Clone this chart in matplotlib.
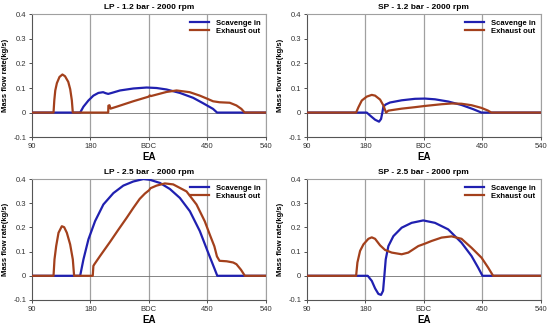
import matplotlib
matplotlib.use("Agg")
import matplotlib.pyplot as plt

plt.rcParams['font.family'] = ['Liberation Sans', 'DejaVu Sans']

titles = ["LP - 1.2 bar - 2000 rpm", "SP - 1.2 bar - 2000 rpm",
          "LP - 2.5 bar - 2000 rpm", "SP - 2.5 bar - 2000 rpm"]
xtick_pos = [90, 180, 270, 360, 450]
xtick_labels = ["90", "180", "BDC", "450", "540"]
ytick_vals = [-0.1, 0, 0.1, 0.2, 0.3, 0.4]
ytick_labels = ["-0.1", "0", "0.1", "0.2", "0.3", "0.4"]

# LP 1.2 bar
lp12_scav_x = [90, 164.3, 169.4, 177, 184.7, 192.4, 199.7, 203.5, 207.5, 212.9, 225.7, 246.2, 266.7,
               282, 297.4, 317.9, 338.4, 353.7, 369, 375.2, 450]
lp12_scav_y = [0, 0, 0.024, 0.049, 0.069, 0.08, 0.083, 0.079, 0.076, 0.08, 0.09, 0.098, 0.102,
               0.1, 0.094, 0.08, 0.06, 0.038, 0.015, 0, 0]
lp12_exh_x = [90, 123.3, 124.5, 126, 128.5, 132.5, 137, 141, 146, 149, 151.5, 153, 207.5, 207.8,
              209.5, 211, 220.6, 246, 270, 271.5, 273, 297.4, 312.8, 333, 348.6, 360.4, 369, 379,
              394.7, 405, 412.6, 417.7, 450]
lp12_exh_y = [0, 0, 0.05, 0.09, 0.12, 0.145, 0.155, 0.148, 0.125, 0.095, 0.05, 0, 0, 0.028,
              0.03, 0.016, 0.024, 0.046, 0.065, 0.07, 0.067, 0.084, 0.09, 0.083, 0.069, 0.056,
              0.046, 0.042, 0.04, 0.029, 0.015, 0, 0]

# SP 1.2 bar
sp12_scav_x = [90, 182.2, 187.3, 195, 201.1, 204.2, 206.2, 207.8, 211.4, 218, 236, 256.4, 271.8,
               287.2, 307.6, 328.1, 346, 358.9, 450]
sp12_scav_y = [0, 0, -0.012, -0.029, -0.037, -0.026, 0, 0.024, 0.033, 0.041, 0.05, 0.056, 0.057,
               0.054, 0.045, 0.031, 0.014, 0, 0]
sp12_exh_x = [90, 165.8, 169.4, 174.5, 182.2, 189.9, 195, 202.7, 207.8, 211.9, 215.5, 236, 256.4,
              271.8, 297.4, 313, 328, 343.5, 358.9, 369, 374, 450]
sp12_exh_y = [0, 0, 0.022, 0.049, 0.065, 0.072, 0.069, 0.053, 0.029, 0, 0.008, 0.016, 0.022,
              0.027, 0.034, 0.037, 0.036, 0.03, 0.019, 0.008, 0, 0]

# LP 2.5 bar
lp25_scav_x = [90, 164.3, 169.4, 177.1, 187.3, 200.1, 215.5, 230.8, 246.2, 261.6, 271.8, 287.2,
               302.5, 317.9, 333.3, 348.6, 361.4, 371.6, 375.5, 450]
lp25_scav_y = [0, 0, 0.068, 0.151, 0.226, 0.295, 0.342, 0.373, 0.39, 0.4, 0.397, 0.384,
               0.359, 0.322, 0.267, 0.185, 0.096, 0.027, 0, 0]
lp25_exh_x = [90, 123.3, 124.8, 127.4, 131, 136.1, 139.7, 143.8, 148.9, 153, 155, 183.7, 184.7,
              186.3, 195, 210.3, 223, 236, 246, 256, 264, 270.5, 272.5, 282, 294.8, 307.6, 328.1,
              343.5, 356.3, 364, 371, 375, 379, 390, 400, 405, 412, 418, 450]
lp25_exh_y = [0, 0, 0.068, 0.123, 0.178, 0.205, 0.201, 0.178, 0.13, 0.068, 0, 0, 0.041,
              0.048, 0.082, 0.14, 0.19, 0.24, 0.28, 0.318, 0.34, 0.354, 0.362, 0.373, 0.382,
              0.378, 0.349, 0.295, 0.225, 0.17, 0.122, 0.08, 0.062, 0.06, 0.055, 0.048, 0.025,
              0, 0]

# SP 2.5 bar
sp25_scav_x = [90, 183.7, 189.9, 195, 200.1, 204.2, 207.3, 209.3, 211.4, 215.5, 223.2, 236,
               251.3, 269.2, 287.2, 307.6, 328.1, 343.5, 353.7, 360.4, 450]
sp25_scav_y = [0, 0, -0.021, -0.052, -0.075, -0.079, -0.062, 0, 0.068, 0.123, 0.164, 0.199,
               0.219, 0.229, 0.219, 0.192, 0.137, 0.082, 0.034, 0, 0]
sp25_exh_x = [90, 165.8, 167.8, 171.9, 177.1, 184.7, 189.9, 195, 202.7, 210.3, 220.6, 236,
              246.2, 261.6, 271.8, 282, 297.4, 312.8, 328.1, 343.5, 358.9, 369.1, 376.8, 450]
sp25_exh_y = [0, 0, 0.055, 0.103, 0.13, 0.153, 0.159, 0.153, 0.126, 0.107, 0.096, 0.089,
              0.096, 0.123, 0.133, 0.144, 0.158, 0.163, 0.153, 0.116, 0.075, 0.034, 0, 0]

panels = [
    (lp12_scav_x, lp12_scav_y, lp12_exh_x, lp12_exh_y),
    (sp12_scav_x, sp12_scav_y, sp12_exh_x, sp12_exh_y),
    (lp25_scav_x, lp25_scav_y, lp25_exh_x, lp25_exh_y),
    (sp25_scav_x, sp25_scav_y, sp25_exh_x, sp25_exh_y),
]

blue = "#2020b0"
brown = "#a3401c"

fig = plt.figure(figsize=(5.5, 3.25), dpi=100)
positions = [
    (0.058, 0.578, 0.425, 0.378),
    (0.558, 0.578, 0.425, 0.378),
    (0.058, 0.077, 0.425, 0.372),
    (0.558, 0.077, 0.425, 0.372),
]

for i, (pos, data) in enumerate(zip(positions, panels)):
    ax = fig.add_axes(pos)
    sx, sy, ex, ey = data
    for xv in xtick_pos[1:]:
        ax.axvline(xv, color="#a0a0a0", lw=0.9, zorder=1)
    ax.axhline(0, color="#707070", lw=0.6, zorder=1)
    ax.plot(sx, sy, color=blue, lw=1.6, label="Scavenge in", zorder=3)
    ax.plot(ex, ey, color=brown, lw=1.6, label="Exhaust out", zorder=3)
    ax.set_xlim(90, 450)
    ax.set_ylim(-0.1, 0.4)
    ax.set_xticks(xtick_pos)
    ax.set_xticklabels(xtick_labels, fontsize=5.5)
    ax.set_yticks(ytick_vals)
    ax.set_yticklabels(ytick_labels, fontsize=5.5)
    ax.tick_params(length=2, width=0.6, pad=2, colors="#333333")
    ax.spines['left'].set_color("#555555")
    ax.spines['bottom'].set_color("#555555")
    ax.spines['top'].set_color("#a0a0a0")
    ax.spines['right'].set_color("#a0a0a0")
    for s in ax.spines.values():
        s.set_linewidth(0.8)
    ax.set_title(titles[i], fontsize=6, fontweight="bold", pad=4)
    ax.set_xlabel("EA", fontsize=7, fontweight="bold", labelpad=2)
    ax.set_ylabel("Mass flow rate(kg/s)", fontsize=5.5, fontweight="bold", labelpad=3)
    ax.legend(loc="upper right", frameon=False, prop={'weight': 'bold', 'size': 5.5},
              handlelength=2.6, borderaxespad=0.3, labelspacing=0.1)

fig.savefig("out.png", dpi=100)
